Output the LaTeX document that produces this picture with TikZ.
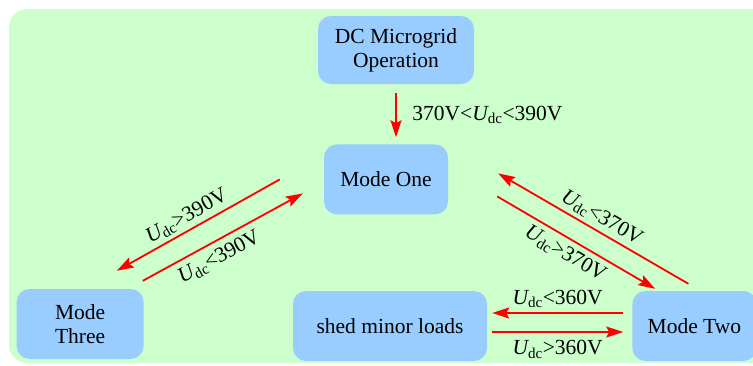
\documentclass[tikz,border=0pt]{standalone}
\usepackage{fontspec}
\setmainfont{Liberation Serif}
\usetikzlibrary{arrows.meta,positioning,calc}
\definecolor{bggreen}{RGB}{204,255,204}
\definecolor{boxblue}{RGB}{153,204,255}
\newcommand{\udc}{{\itshape U}\textsubscript{dc}}

\begin{document}
\begin{tikzpicture}[>={Stealth[length=17pt,width=11pt,inset=3pt]}, x=1pt, y=-1pt, node distance=60pt]
        \tikzset{mode/.style={rectangle, rounded corners=13pt, fill=boxblue, align=center, minimum width=124pt, minimum height=70pt, font=\fontsize{21.5}{24}\selectfont}, flow/.style={->, red, line width=1.8pt}, cond/.style={font=\fontsize{21.5}{24}\selectfont, inner sep=1.5pt, text=black}}
        \clip (0,0) rectangle (753,365);
        \fill[bggreen, rounded corners=18pt] (9,9) rectangle (790,363);
        \node[mode, minimum width=156pt, minimum height=68pt] (op) at (396,50) {DC Microgrid\\Operation};
        \node[mode, below=60pt of op, xshift=-10pt] (one) {Mode One};
        \node[mode, minimum width=194pt] (shed) at (390,326) {shed minor loads};
        \node[mode, right=145pt of shed] (two) {Mode Two};
        \node[mode, minimum width=127pt, left=149pt of shed, yshift=2pt] (three) {Mode\\Three};
        \draw[flow] ([yshift=-9pt]op.south) -- ($(one.north -| op.south)+(0,-7)$) node[cond, midway, right=14pt] {370V<\udc<390V};
        \draw[flow] ([xshift=-44pt]one.west) -- node[cond, sloped, above=2pt, pos=0.53] {\udc>390V} ([xshift=-27pt,yshift=18pt]three.north east);
        \draw[flow] ([xshift=-1pt,yshift=8pt]three.north east) -- node[cond, sloped, below=5pt, pos=0.43] {\udc<390V} ([xshift=-21pt,yshift=-14pt]one.west);
        \draw[flow] ([xshift=-6pt,yshift=7pt]two.north) -- node[cond, sloped, above=2pt, pos=0.49] {\udc<370V} ([xshift=50pt,yshift=6pt]one.east);
        \draw[flow] ([xshift=49pt,yshift=-17pt]one.east) -- node[cond, sloped, below=4pt, pos=0.48] {\udc>370V} ([xshift=23pt,yshift=2pt]two.north west);
        \draw[flow] ([xshift=-9pt,yshift=13pt]two.west) -- node[cond, above=3pt] {\udc<360V} ([xshift=5pt,yshift=13pt]shed.east);
        \draw[flow] ([xshift=5pt,yshift=-6pt]shed.east) -- node[cond, below=6pt] {\udc>360V} ([xshift=-9pt,yshift=-6pt]two.west);
\end{tikzpicture}
\end{document}
